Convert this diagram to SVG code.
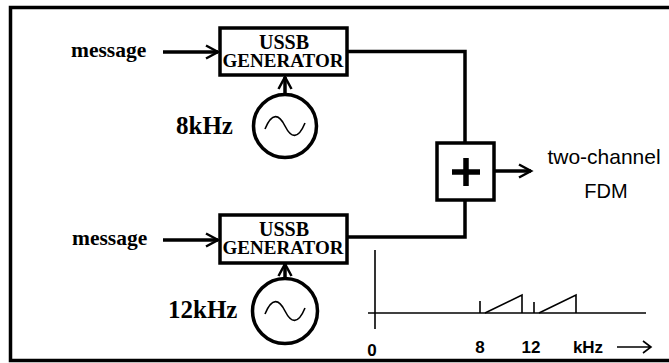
<svg xmlns="http://www.w3.org/2000/svg" width="669" height="363" viewBox="0 0 669 363">
<defs>
<style>
.frame{fill:none;stroke:#000;stroke-width:3.5}
.box{fill:#fff;stroke:#000;stroke-width:3.5}
.osc{fill:#fff;stroke:#000;stroke-width:3.5}
.wire{fill:none;stroke:#000;stroke-width:3.5}
.thin{fill:none;stroke:#000;stroke-width:1.6}
.serif{font-family:"Liberation Serif","Times New Roman",serif;font-weight:bold;fill:#000}
.sans{font-family:"Liberation Sans",Arial,sans-serif;fill:#000}
</style>
<marker id="chev" markerWidth="16" markerHeight="16" viewBox="-13 -8 15 16" refX="0" refY="0" orient="auto" markerUnits="userSpaceOnUse">
<path d="M-12,-6.5 L0,0 L-12,6.5" fill="none" stroke="#000" stroke-width="2.5"/>
</marker>
</defs>
<path class="frame" d="M672,7.5 H10.5 V360.5 H672"/>

<g id="connectors">
<line class="wire" x1="163" y1="52" x2="218" y2="52" marker-end="url(#chev)"/>
<line class="wire" x1="163" y1="240" x2="218" y2="240" marker-end="url(#chev)"/>
<line class="wire" x1="285" y1="94" x2="285" y2="77" marker-end="url(#chev)"/>
<line class="wire" x1="285" y1="278" x2="285" y2="264" marker-end="url(#chev)"/>
<path class="wire" d="M347,51.5 H465 V143"/>
<path class="wire" d="M347,237 H465 V200"/>
<line class="wire" x1="494" y1="171" x2="531" y2="171" marker-end="url(#chev)"/>
</g>

<g id="msg1"><text class="serif" x="71" y="57" font-size="21.5">message</text></g>
<g id="msg2"><text class="serif" x="72" y="245" font-size="21.5">message</text></g>

<g id="gen1">
<rect class="box" x="220" y="28" width="127" height="47"/>
<text class="serif" x="284" y="49" font-size="20" text-anchor="middle">USSB</text>
<text class="serif" x="283" y="67" font-size="18.5" text-anchor="middle" textLength="121" lengthAdjust="spacingAndGlyphs">GENERATOR</text>
</g>
<g id="gen2">
<rect class="box" x="220" y="215" width="127" height="48"/>
<text class="serif" x="284" y="236" font-size="20" text-anchor="middle">USSB</text>
<text class="serif" x="283" y="254" font-size="18.5" text-anchor="middle" textLength="121" lengthAdjust="spacingAndGlyphs">GENERATOR</text>
</g>

<g id="osc1">
<circle class="osc" cx="285" cy="126" r="31.5"/>
<path class="thin" stroke-width="2" d="M265,129 C272,112 279,114 285,126 C291,138 298,140 305,123"/>
<text class="serif" x="176" y="134" font-size="25">8kHz</text>
</g>
<g id="osc2">
<circle class="osc" cx="285" cy="311" r="32.5"/>
<path class="thin" stroke-width="2" d="M265,314 C272,297 279,299 285,311 C291,323 298,325 305,308"/>
<text class="serif" x="168" y="318" font-size="25">12kHz</text>
</g>

<g id="sum">
<rect class="box" x="437" y="143" width="57" height="57"/>
<path d="M452,172 H480 M466,158 V186" stroke="#000" stroke-width="5.5" fill="none"/>
</g>

<g id="out">
<text class="sans" x="604" y="164" font-size="21" text-anchor="middle">two-channel</text>
<text class="sans" x="606" y="198" font-size="20" text-anchor="middle">FDM</text>
</g>

<g id="spectrum">
<line class="thin" x1="375" y1="250" x2="375" y2="329"/>
<line class="thin" x1="368" y1="313" x2="646" y2="313"/>
<path class="thin" d="M480,301 V313 M485,313 L522,295 V313"/>
<path class="thin" d="M534,302 V313 M539,313 L576,295 V313"/>
<text class="sans" x="372" y="356" font-size="17" font-weight="bold" text-anchor="middle">0</text>
<text class="sans" x="480" y="353" font-size="17" font-weight="bold" text-anchor="middle">8</text>
<text class="sans" x="531" y="353" font-size="17" font-weight="bold" text-anchor="middle">12</text>
<text class="sans" x="588" y="353" font-size="17" font-weight="bold" text-anchor="middle">kHz</text>
<path d="M617,347 H650 M643,341 L651,347 L643,353" fill="none" stroke="#000" stroke-width="1.6"/>
</g>
</svg>
